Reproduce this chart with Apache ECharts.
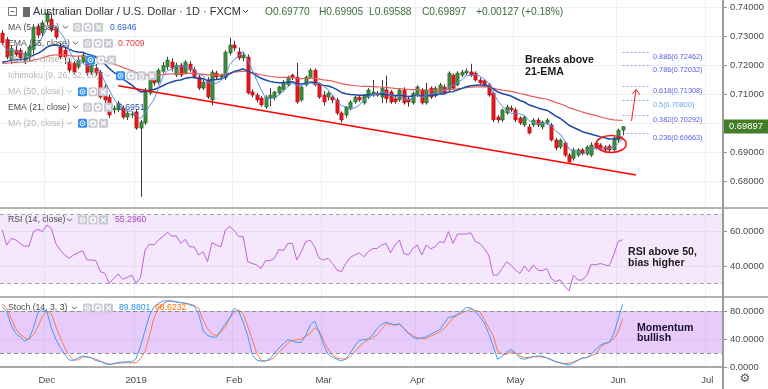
<!DOCTYPE html>
<html><head><meta charset="utf-8">
<script src="https://cdn.jsdelivr.net/npm/echarts@6/dist/echarts.min.js"></script>
<style>html,body{margin:0;padding:0;background:#fff;overflow:hidden}#c{width:768px;height:389px}</style>
</head><body><div id="c"></div>
<script>
// ---------- DATA ----------
const startDate = '2018-11-19';
const holidays = ['2018-12-25', '2019-01-01'];
const barCount = 162;
const tickDates = ['2018-12-03','2019-01-02','2019-02-01','2019-03-01','2019-04-01','2019-05-01','2019-06-03','2019-07-01'];
const tickLabels = ['Dec','2019','Feb','Mar','Apr','May','Jun','Jul'];

const opens = [
.7312,.7290,.7215,.7253,.7252,.7214,.7228,.7255,.7333,.7312,
.7350,.7360,.7328,.7264,.7253,.7212,.7208,.7195,.7212,.7219,
.7177,.7191,.7177,.7126,.7091,.7047,.7047,.7053,.7022,.7029,
.7040,.6984,.7002,.7105,.7160,.7143,.7180,.7195,.7212,.7167,
.7201,.7174,.7205,.7185,.7160,.7122,.7150,.7081,.7174,.7160,
.7157,.7243,.7271,.7247,.7226,.7229,.7109,.7098,.7088,.7057,
.7088,.7088,.7105,.7116,.7133,.7167,.7160,.7081,.7133,.7160,
.7184,.7136,.7098,.7091,.7091,.7081,.7036,.7029,.7050,.7074,
.7091,.7071,.7091,.7098,.7105,.7091,.7116,.7109,.7085,.7081,
.7116,.7085,.7071,.7098,.7116,.7071,.7122,.7095,.7105,.7126,
.7116,.7167,.7133,.7167,.7174,.7178,.7174,.7150,.7147,.7133,
.7105,.7022,.7012,.7036,.7053,.7047,.7019,.6995,.6988,.6995,
.7012,.6988,.7002,.6995,.6943,.6919,.6933,.6891,.6880,.6891,
.6909,.6895,.6891,.6933,.6926,.6919,.6922,.6909,.6943,.69770];
const highs = [
.7322,.7298,.7268,.7268,.7260,.7250,.7270,.7342,.7345,.7355,
.7395,.7378,.7335,.7278,.7262,.7225,.7215,.7230,.7245,.7225,
.7210,.7205,.7185,.7135,.7100,.7062,.7078,.7062,.7045,.7042,
.7048,.7012,.7122,.7175,.7170,.7190,.7212,.7230,.7225,.7210,
.7208,.7218,.7215,.7195,.7168,.7150,.7160,.7185,.7182,.7172,
.7252,.7296,.7285,.7262,.7245,.7238,.7118,.7105,.7095,.7098,
.7122,.7112,.7130,.7150,.7165,.7172,.7209,.7130,.7165,.7190,
.7190,.7142,.7112,.7110,.7098,.7088,.7042,.7060,.7080,.7095,
.7098,.7102,.7122,.7150,.7112,.7150,.7165,.7115,.7100,.7122,
.7125,.7092,.7110,.7132,.7122,.7140,.7128,.7128,.7140,.7135,
.7180,.7172,.7180,.7185,.7190,.7206,.7180,.7158,.7152,.7140,
.7110,.7030,.7052,.7065,.7062,.7055,.7025,.7028,.6998,.7018,
.7020,.7010,.7018,.7002,.6950,.6948,.6940,.6898,.6915,.6915,
.6915,.6925,.6935,.6940,.6932,.6925,.6928,.6955,.6982,.69905];
const lows = [
.7270,.7222,.7205,.7230,.7218,.7205,.7215,.7240,.7295,.7300,
.7340,.7315,.7290,.7222,.7205,.7175,.7170,.7188,.7205,.7165,
.7168,.7165,.7085,.7070,.7020,.7035,.7040,.7015,.7012,.7020,
.6978,.6747,.6995,.7098,.7130,.7135,.7172,.7185,.7180,.7160,
.7160,.7168,.7178,.7155,.7115,.7115,.7085,.7063,.7152,.7150,
.7150,.7235,.7250,.7218,.7215,.7100,.7090,.7072,.7058,.7050,
.7060,.7080,.7098,.7110,.7128,.7150,.7068,.7075,.7128,.7155,
.7128,.7085,.7062,.7080,.7070,.7030,.7003,.7020,.7045,.7068,
.7075,.7065,.7085,.7092,.7092,.7070,.7070,.7068,.7068,.7075,
.7065,.7058,.7065,.7092,.7065,.7065,.7085,.7090,.7100,.7100,
.7110,.7115,.7128,.7160,.7168,.7160,.7145,.7135,.7128,.7092,
.7005,.7002,.7005,.7030,.7040,.7005,.6995,.6988,.6962,.6988,
.6988,.6980,.6995,.6938,.6908,.6912,.6885,.6865,.6872,.6885,
.6890,.6890,.6885,.6910,.6905,.6900,.6900,.6905,.6935,.69588];
const closes = [
.7278,.7229,.7258,.7238,.7226,.7243,.7264,.7333,.7305,.7347,
.7381,.7322,.7298,.7229,.7229,.7184,.7177,.7219,.7236,.7174,
.7201,.7174,.7091,.7081,.7029,.7053,.7070,.7022,.7036,.7033,
.6984,.7005,.7116,.7167,.7140,.7184,.7200,.7219,.7191,.7201,
.7167,.7212,.7185,.7162,.7122,.7143,.7091,.7177,.7160,.7167,
.7246,.7271,.7260,.7226,.7236,.7105,.7098,.7081,.7064,.7091,
.7098,.7109,.7126,.7143,.7160,.7157,.7074,.7126,.7160,.7184,
.7133,.7091,.7074,.7105,.7081,.7036,.7012,.7057,.7074,.7091,
.7081,.7098,.7116,.7109,.7098,.7122,.7085,.7074,.7075,.7116,
.7071,.7074,.7105,.7126,.7071,.7116,.7091,.7122,.7133,.7105,
.7174,.7122,.7174,.7177,.7181,.7167,.7150,.7140,.7133,.7098,
.7012,.7012,.7047,.7057,.7047,.7012,.7002,.7022,.6967,.7012,
.6995,.7005,.7012,.6943,.6916,.6943,.6891,.6867,.6909,.6909,
.6898,.6919,.6926,.6916,.6912,.6909,.6909,.6950,.6977,.69897];

const rsi14 = [
61,52.2,56.1,55.2,53.2,51.6,51.6,60,61.4,60,
63.9,62,53.2,49.3,46.4,44.5,46.4,47.7,48.9,43.5,
43.5,43.1,36.7,35.7,29.9,32.8,35.3,32.2,33.4,34.7,
29.9,33.4,49.3,52.8,52.2,55.1,57.1,59.6,57.5,57.5,
53.2,55.5,51.2,51.2,46.4,48.3,42.5,53.6,52.2,51.2,
61,63,60.6,57.1,57.1,42.5,41.5,40.6,38.6,43.1,
43.1,44.5,49.7,48.9,53.2,53.2,43.5,48.3,54.2,55.1,
51.2,44.5,43.5,44.5,41.5,37.6,36.7,41.5,45.1,46.4,
47.7,45.3,48.3,50.2,50.2,52.2,53.2,47.7,52.2,55.1,
47.3,46.4,50.2,52.2,46.4,52.2,50,51.2,54.2,53.6,
60,53.2,58.6,58.6,58.6,59.4,54.2,53.2,50.2,46.4,
34.7,34.7,38.6,42.5,40.6,37.6,35.7,40,36.7,40.6,
37.6,37.2,38.6,32.8,30.9,32,28.3,25.6,34.7,31.8,
31.8,34.7,41.1,40.6,41.5,40.6,40,46.4,54.2,55.296];
const stochK = [
86,79,60,48,43,37,40,56,78,82,
80,56,40,28,18,10,9.5,13,16,14.5,
13.3,9,8,5,3.5,5,6.5,7,7.4,7.4,
12,30,52,74,86,91,94,94.7,94,93,
92,91,89,87,76,52,45,43,42.5,52,
62,70,84,79,64,45,18,10,8.4,8.4,
12,20,27,33,39,37,35.3,35.3,45,60,
65.5,50,32,18,14,11,8.4,12,20,30,
38,39,40,46,55,61,64,62,60,62,
55,48,42.6,40.5,41.5,43,47,50,53,62,
71,72,75,80,85,84.5,79,72,63,48,
30,11,15,21,25.5,20,13,11,13,15,
15.8,15.8,13,10,8,6,4,2.6,6,9.5,
13,13.3,18,25.5,31,34,35.3,47,68,89.8801];
const stochD = [
90,84,70,55,47,42,40,46,58,72,
80,76,58,42,28,16,10,10,14,14.5,
13,11,8.5,6,4,4.5,5.5,6,6,6,
6,12,22,45,70,84,90,94,94.5,93,
92,91,90,88,84,67,55,47,45,50,
57,70,78,81.6,76,58,40,20,9,9,
10,14,21,27,34,38,39,40,44,48,
56,52,38,26,17,13,11.5,11,15,22,
29,35,39,42,46,54,62,61,60,61,
55,49,45,41.5,41,41,44,47,50,55,
62,70,74,77,80,83,81,79,68,56,
45,23,18.5,18,22,20,15.8,13.5,13.5,14.5,
14.8,14,13.3,11,7,6,5,5.5,7.5,10,
12.5,14,16,18.5,28,33,35.3,40,50,68.6232];

// indicator start values read at the left edge
const ema21Start = 0.7212;
const ema55Start = 0.7207;
// values printed in the legend of the reference
const legendTexts = { ma5: '0.6946', ema55: '0.7009', ema21: '0.6951', rsi: '55.2960', k: '89.8801', d: '68.6232' };
const ohlcTexts = ['O0.69770', 'H0.69905', 'L0.69588', 'C0.69897', '+0.00127 (+0.18%)'];
// trend line end points [bar index, price]
const trendStart = [26, 0.71303];
const trendEnd = [142, 0.68224];
// fibonacci levels
const fibRatios = [0.236, 0.382, 0.5, 0.618, 0.786, 0.886];
const fibPrices = [0.69663, 0.70292, 0.70800, 0.71308, 0.72032, 0.72462];

// ---------- derived ----------
const dates = [];
(function(){
  const d = new Date(startDate + 'T00:00:00Z');
  while (dates.length < barCount) {
    const s = d.toISOString().slice(0, 10), wd = d.getUTCDay();
    if (wd !== 0 && wd !== 6 && holidays.indexOf(s) < 0) dates.push(s);
    d.setUTCDate(d.getUTCDate() + 1);
  }
})();
const labelOf = {}; tickDates.forEach((t, i) => labelOf[t] = tickLabels[i]);
const tickIdx = new Set(tickDates.map(t => dates.indexOf(t)));

function ema(start, n) { const k = 2 / (n + 1), out = [start]; for (let i = 1; i < closes.length; i++) out.push(out[i-1] + k * (closes[i] - out[i-1])); return out; }
const ma5 = closes.map((c, i) => { const s = closes.slice(Math.max(0, i - 4), i + 1); return s.reduce((a, b) => a + b, 0) / s.length; });
const ema21 = ema(ema21Start, 21);
const ema55 = ema(ema55Start, 55);
const candleData = closes.map((c, i) => [i, opens[i], c, lows[i], highs[i]]);

const FONT = '"Liberation Sans", Arial, sans-serif';
const AXC = '#4a4a4a';

function renderCandle(params, api) {
  const i = api.value(0), o = api.value(1), c = api.value(2), l = api.value(3), h = api.value(4);
  const pO = api.coord([i, o]), pC = api.coord([i, c]), pL = api.coord([i, l]), pH = api.coord([i, h]);
  const band = api.size([1, 0])[0];
  const w = Math.max(2, band * 0.76);
  const x = Math.round(pO[0]) + 0.5;
  const up = c >= o;
  const top = Math.min(pO[1], pC[1]);
  const hg = Math.max(1, Math.abs(pO[1] - pC[1]));
  return { type: 'group', children: [
    { type: 'line', shape: { x1: x, y1: pH[1], x2: x, y2: pL[1] }, style: { stroke: '#3a3a3a', lineWidth: 1 } },
    { type: 'rect', shape: { x: x - w / 2, y: top, width: w, height: hg }, style: { fill: up ? '#3b8c3b' : '#e8151b', stroke: up ? '#2c632c' : '#a81216', lineWidth: 0.5 } }
  ]};
}

function xAxisCfg(gi) {
  return { type: 'category', gridIndex: gi, data: dates, boundaryGap: true,
    axisLine: { show: gi === 2, lineStyle: { color: '#8f8f8f', width: 1.5 } },
    axisTick: { show: false },
    axisLabel: { show: gi === 2, interval: (i) => tickIdx.has(i), formatter: (v) => labelOf[v] || '', color: AXC, fontSize: 9.5, fontFamily: FONT, margin: 8 },
    splitLine: { show: true, interval: (i) => tickIdx.has(i), lineStyle: { color: '#eef0f4', width: 1 } } };
}
function yAxisCfg(gi, min, max, interval, digits, showMin) {
  return { type: 'value', gridIndex: gi, position: 'right', min, max, interval,
    axisLine: { show: false },
    axisTick: { show: true, length: 4, lineStyle: { color: '#8f8f8f' } },
    axisLabel: { formatter: (v) => v.toFixed(digits), color: AXC, fontSize: 9.4, fontFamily: FONT, margin: 7, showMinLabel: showMin, showMaxLabel: false },
    splitLine: { show: true, showMinLine: false, showMaxLine: false, lineStyle: { color: '#eef0f4', width: 1 } } };
}

const chart = echarts.init(document.getElementById('c'), null, { renderer: 'canvas', width: 768, height: 389, devicePixelRatio: 1 });
const option = {
  animation: false,
  backgroundColor: '#ffffff',
  textStyle: { fontFamily: FONT },
  grid: [
    { left: 0, top: 0, width: 723, height: 210.5, containLabel: false, outerBoundsMode: 'none' },
    { left: 0, top: 208, width: 723, height: 92.3, containLabel: false, outerBoundsMode: 'none' },
    { left: 0, top: 297, width: 723, height: 70, containLabel: false, outerBoundsMode: 'none' }
  ],
  xAxis: [xAxisCfg(0), xAxisCfg(1), xAxisCfg(2)],
  yAxis: [
    yAxisCfg(0, 0.67, 0.742586, 0.01, 5, false),
    yAxisCfg(1, 20, 73.8, 20, 4, false),
    yAxisCfg(2, 0, 100, 40, 4, true)
  ],
  series: [
    { type: 'custom', name: 'AUDUSD', xAxisIndex: 0, yAxisIndex: 0, data: candleData, encode: { x: 0, y: [1, 2, 3, 4] }, renderItem: renderCandle, z: 2 },
    { type: 'line', name: 'EMA55', xAxisIndex: 0, yAxisIndex: 0, data: ema55, showSymbol: false, symbol: 'none', lineStyle: { color: '#e35d5d', width: 1.2 }, z: 3,
      markLine: { silent: true, symbol: ['none', 'none'], label: { show: false }, lineStyle: { color: '#ff0000', width: 1.6, type: 'solid' }, data: [[{ coord: trendStart }, { coord: trendEnd }]] } },
    { type: 'line', name: 'EMA21', xAxisIndex: 0, yAxisIndex: 0, data: ema21, showSymbol: false, symbol: 'none', lineStyle: { color: '#1d4aa5', width: 1.5 }, z: 4 },
    { type: 'line', name: 'MA5', xAxisIndex: 0, yAxisIndex: 0, data: ma5, showSymbol: false, symbol: 'none', lineStyle: { color: '#5b8ee0', width: 1 }, z: 4 },
    { type: 'line', name: 'RSI', xAxisIndex: 1, yAxisIndex: 1, data: rsi14, showSymbol: false, symbol: 'none', lineStyle: { color: '#bf63d6', width: 1 }, z: 4,
      markArea: { silent: true, itemStyle: { color: 'rgba(200,130,240,0.18)' }, data: [[{ yAxis: 70 }, { yAxis: 30 }]] },
      markLine: { silent: true, symbol: ['none', 'none'], label: { show: false }, lineStyle: { color: '#a3a3a3', type: [4, 3], width: 1 }, data: [{ yAxis: 70 }, { yAxis: 30 }] } },
    { type: 'line', name: '%K', xAxisIndex: 2, yAxisIndex: 2, data: stochK, showSymbol: false, symbol: 'none', lineStyle: { color: '#3d9cf5', width: 1 }, z: 5,
      markArea: { silent: true, itemStyle: { color: 'rgba(185,110,245,0.36)' }, data: [[{ yAxis: 80 }, { yAxis: 20 }]] },
      markLine: { silent: true, symbol: ['none', 'none'], label: { show: false }, lineStyle: { color: '#8e8e8e', type: [4, 3], width: 1 }, data: [{ yAxis: 80 }, { yAxis: 20 }] } },
    { type: 'line', name: '%D', xAxisIndex: 2, yAxisIndex: 2, data: stochD, showSymbol: false, symbol: 'none', lineStyle: { color: '#ff7a45', width: 1 }, z: 4 }
  ]
};
chart.setOption(option);

// ---------- overlays (legend, annotations) ----------
const G = [];
function T(x, y, text, fill, size, weight) {
  G.push({ type: 'text', x, y, z: 100, style: { text, fill, font: (weight || 'normal') + ' ' + size + 'px ' + FONT, align: 'left', verticalAlign: 'middle', textAlign: 'left', textVerticalAlign: 'middle' } });
}
function L(x1, y1, x2, y2, stroke, w, dash) {
  G.push({ type: 'line', z: 100, shape: { x1, y1, x2, y2 }, style: { stroke, lineWidth: w || 1, lineDash: dash || null } });
}
function chev(x, y, c) { G.push({ type: 'polyline', z: 100, shape: { points: [[x, y - 1.5], [x + 2.5, y + 1], [x + 5, y - 1.5]] }, style: { stroke: c, lineWidth: 1, fill: null } }); }
function icon(x, y, kind, blue) {
  const c = blue ? '#2f8ff0' : '#c7cad0';
  const y0 = y - 4.5;
  G.push({ type: 'rect', z: 100, shape: { x, y: y0, width: 9, height: 9, r: 1.5 }, style: { fill: c } });
  if (kind === 'eye') {
    G.push({ type: 'circle', z: 101, shape: { cx: x + 4.5, cy: y, r: 2.5 }, style: { fill: null, stroke: '#fff', lineWidth: 1 } });
    G.push({ type: 'circle', z: 101, shape: { cx: x + 4.5, cy: y, r: 0.9 }, style: { fill: '#fff' } });
  } else if (kind === 'gear') {
    G.push({ type: 'circle', z: 101, shape: { cx: x + 4.5, cy: y, r: 2.4 }, style: { fill: null, stroke: '#fff', lineWidth: 1.5 } });
  } else if (kind === 'x') {
    G.push({ type: 'line', z: 101, shape: { x1: x + 2.2, y1: y0 + 2.2, x2: x + 6.8, y2: y0 + 6.8 }, style: { stroke: '#fff', lineWidth: 1.2 } });
    G.push({ type: 'line', z: 101, shape: { x1: x + 6.8, y1: y0 + 2.2, x2: x + 2.2, y2: y0 + 6.8 }, style: { stroke: '#fff', lineWidth: 1.2 } });
  } else if (kind === 'code') {
    G.push({ type: 'text', z: 101, x: x + 4.5, y, style: { text: '{}', fill: '#fff', font: 'bold 7px ' + FONT, align: 'center', verticalAlign: 'middle', textAlign: 'center', textVerticalAlign: 'middle' } });
  }
}
function row(y, label, faded, chevX, iconX, kinds, blueFirst) {
  const c = faded ? '#b5b5b5' : '#4a4a4a';
  T(8, y, label, c, 8.7);
  chev(chevX, y, faded ? '#b5b5b5' : '#555');
  kinds.forEach((k, i) => icon(iconX + i * 10.5, y, k, blueFirst && i === 0));
}

// title row
G.push({ type: 'rect', z: 100, shape: { x: 8.5, y: 7.5, width: 8, height: 8 }, style: { fill: '#fff', stroke: '#777', lineWidth: 1 } });
L(10.5, 11.5, 14.5, 11.5, '#777', 1);
G.push({ type: 'rect', z: 100, shape: { x: 23, y: 7, width: 7, height: 10 }, style: { fill: '#6a6a6a' } });
T(33, 12, 'Australian Dollar / U.S. Dollar · 1D · FXCM', '#333333', 11);
chev(243, 11.5, '#444');
const ohlcCol = '#3c6e3c';
const ohlcX = [265, 319, 369, 422, 476];
ohlcTexts.forEach((s, i) => T(ohlcX[i], 12, s, ohlcCol, 10.2));

row(27.3, 'MA (5, close)', false, 63, 73, ['eye', 'gear', 'x'], false);
T(110, 27.3, legendTexts.ma5, '#2f62d6', 8.7);
row(43.3, 'EMA (55, close)', false, 73, 83, ['eye', 'gear', 'x'], false);
T(118, 43.3, legendTexts.ema55, '#e53935', 8.7);
row(60, 'BB (20, close, 2)', true, 76, 86, ['eye', 'gear', 'x'], true);
row(75.7, 'Ichimoku (9, 26, 52, 26)', true, 105, 116, ['eye', 'gear', 'code', 'x'], true);
row(91.7, 'MA (50, close)', true, 67, 78, ['eye', 'gear', 'x'], true);
row(107.3, 'EMA (21, close)', false, 73, 83, ['eye', 'gear', 'x'], false);
T(118, 107.3, legendTexts.ema21, '#2a4fa8', 8.7);
row(123.3, 'MA (20, close)', true, 67, 78, ['eye', 'gear', 'x'], true);

row(220, 'RSI (14, close)', false, 67, 78, ['eye', 'gear', 'x'], false);
T(115, 220, legendTexts.rsi, '#ab47bc', 8.7);
row(308, 'Stoch (14, 3, 3)', false, 72, 83, ['eye', 'gear', 'x'], false);
T(119, 308, legendTexts.k, '#2196f3', 8.7);
T(155, 308, legendTexts.d, '#ff6d00', 8.7);

// annotations
T(525, 60, 'Breaks above', '#1a1a1a', 10.6, 'bold');
T(525, 72, '21-EMA', '#1a1a1a', 10.6, 'bold');
T(628, 252.5, 'RSI above 50,', '#1a1a1a', 10.6, 'bold');
T(628, 263.5, 'bias higher', '#1a1a1a', 10.6, 'bold');
T(637, 327.7, 'Momentum', '#1a0f33', 10.6, 'bold');
T(637, 338.3, 'bullish', '#1a0f33', 10.6, 'bold');

const P = (i, v, g) => chart.convertToPixel({ gridIndex: g || 0 }, [i, v]);
// fib levels
fibRatios.forEach((r, k) => {
  const a = P(139, fibPrices[k]), b = P(145, fibPrices[k]);
  const col = r === 0.5 ? '#6aa8f0' : '#5a5cec';
  L(a[0], Math.round(a[1]) + 0.5, b[0] + 1, Math.round(a[1]) + 0.5, r === 0.5 ? 'rgba(106,168,240,0.8)' : 'rgba(110,110,236,0.6)', 1, [2, 2]);
  T(653, a[1] + 5, r + '(' + fibPrices[k].toFixed(5) + ')', col, 7.3);
});
// arrow
const a0 = P(141, 0.70086), a1 = P(142, 0.71172);
L(a0[0], a0[1], a1[0], a1[1], '#ff1a1a', 1);
L(a1[0], a1[1], a1[0] - 3.5, a1[1] + 4.5, '#ff1a1a', 1);
L(a1[0], a1[1], a1[0] + 4, a1[1] + 5.5, '#ff1a1a', 1);
// ellipse around consolidation
const ec = P(136, 0.69293);
G.push({ type: 'ellipse', z: 100, shape: { cx: ec[0] + 2, cy: ec[1], rx: 15, ry: 8.5 }, style: { fill: null, stroke: '#ff1010', lineWidth: 1.5 } });

// separators & axis line
L(0, 208, 768, 208, '#9b9b9b', 1.5);
L(0, 297, 768, 297, '#9b9b9b', 1.5);
L(723, 0, 723, 389, '#9b9b9b', 2);
// last price tag
const lp = P(139, closes[closes.length - 1]);
G.push({ type: 'rect', z: 110, shape: { x: 724, y: lp[1] - 7, width: 44, height: 14 }, style: { fill: '#437d27' } });
G.push({ type: 'text', z: 111, x: 729, y: lp[1], style: { text: closes[closes.length - 1].toFixed(5), fill: '#ffffff', font: '9.4px ' + FONT, align: 'left', verticalAlign: 'middle', textAlign: 'left', textVerticalAlign: 'middle' } });
// settings gear
G.push({ type: 'text', z: 100, x: 745, y: 379, style: { text: '⚙', fill: '#555', font: '12px "DejaVu Sans"', align: 'center', verticalAlign: 'middle', textAlign: 'center', textVerticalAlign: 'middle' } });

chart.setOption({ graphic: { elements: G } });
</script>
</body></html>
